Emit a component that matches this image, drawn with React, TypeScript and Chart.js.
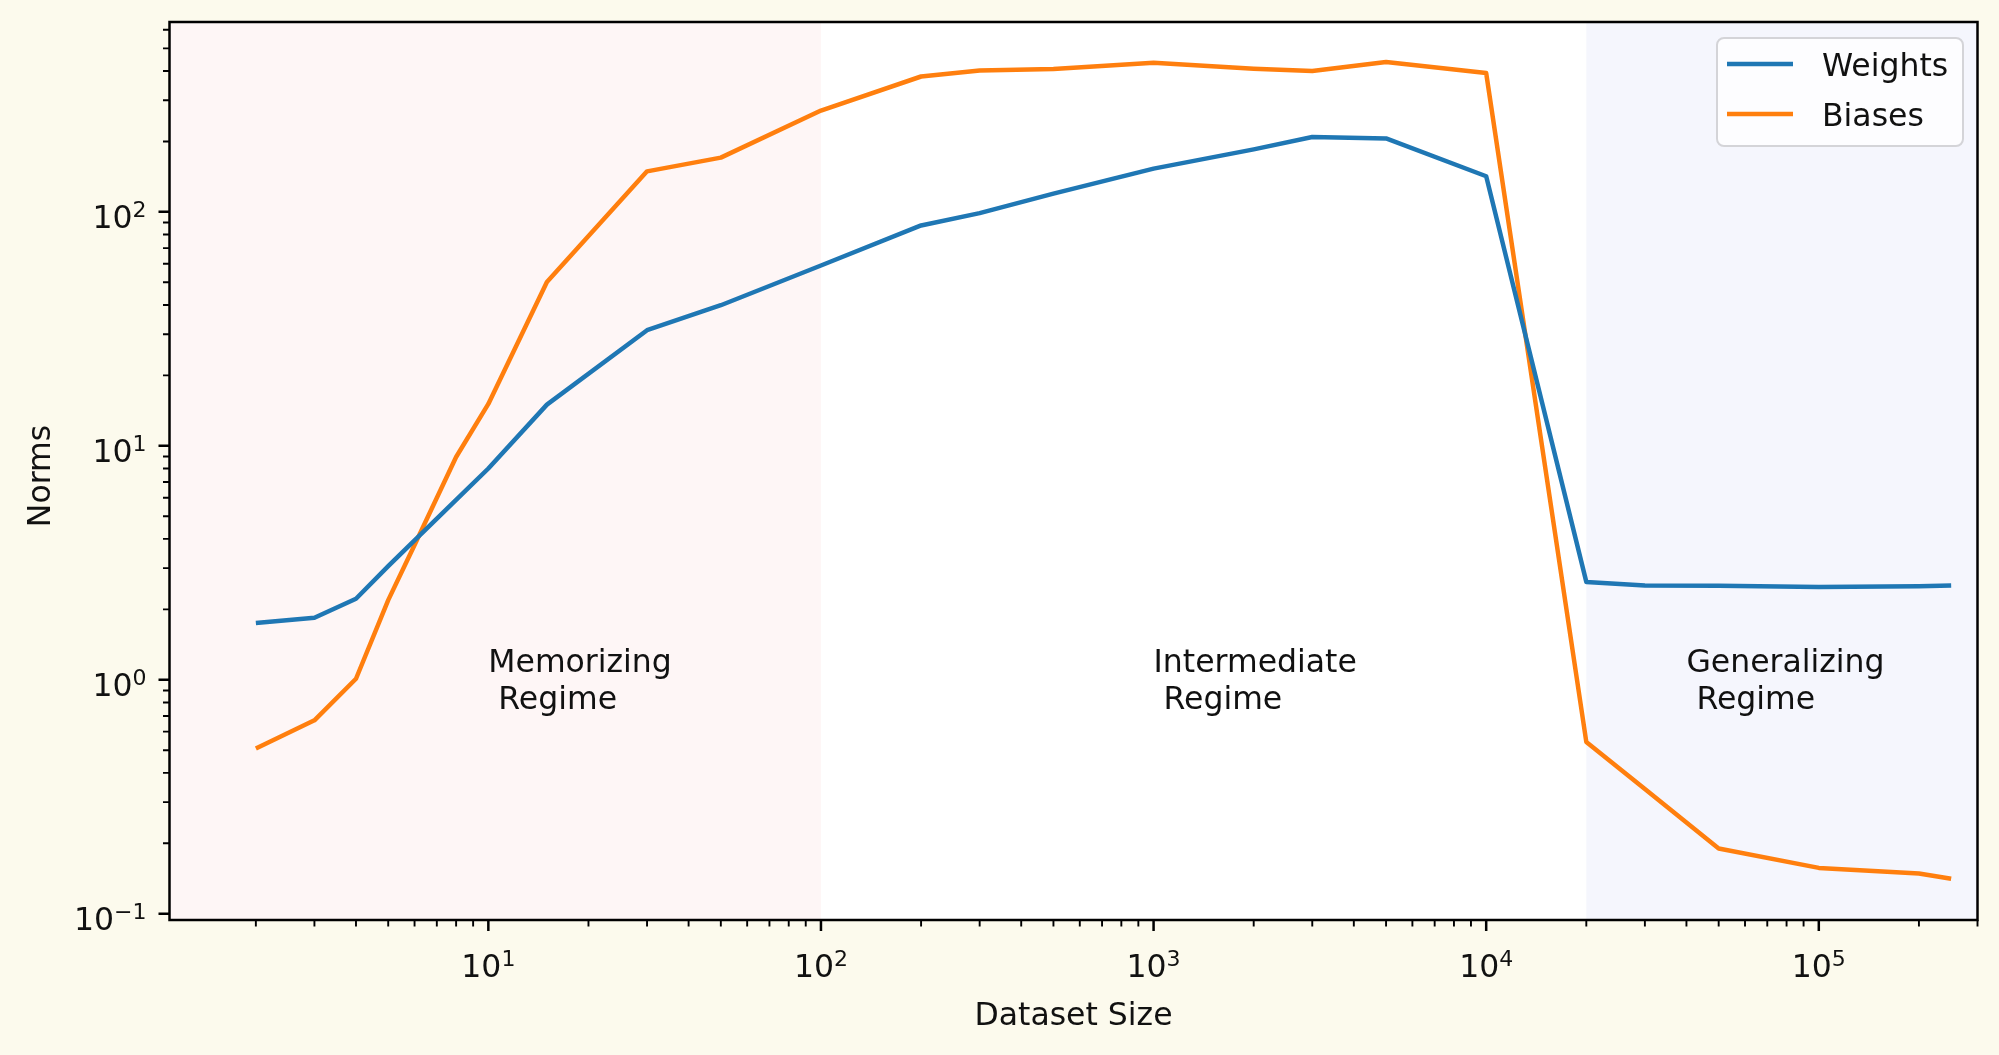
import { useEffect, useRef } from "react"
import { Chart, registerables } from "chart.js"

Chart.register(...registerables)

// dataset sizes (x) and the two norm curves
const datasetSizes = [2, 3, 4, 5, 6, 8, 10, 15, 30, 50, 100, 200, 300, 500, 1000, 2000, 3000, 5000, 10000, 20000, 30000, 50000, 100000, 200000, 250000]
const weightNorms = [1.75, 1.84, 2.22, 3.06, 3.94, 5.87, 8.0, 15.0, 31.2, 39.9, 59, 87.5, 98.8, 119.6, 153, 185, 209, 206, 142, 2.62, 2.53, 2.52, 2.49, 2.51, 2.53]
const biasNorms = [0.508, 0.671, 1.01, 2.19, 3.77, 8.96, 15.1, 50.1, 149, 170.5, 271, 379, 402, 408, 434, 409, 400, 437, 392, 0.542, 0.341, 0.19, 0.157, 0.1485, 0.141]

const seriesNames = ["Weights", "Biases"]
const seriesColors = ["#1f77b4", "#ff7f0e"]

// shaded regimes
const regionSpans = [[1, 100], [100, 20000], [20000, 300000]]
const regionColors = ["rgb(254,246,246)", null, "rgb(245,246,253)"]
const regionLabels = [["Memorizing", " Regime"], ["Intermediate", " Regime"], ["Generalizing", " Regime"]]
const regionLabelX = [10, 1000, 40000]
const regionLabelY = 1

// axis limits and tick labels
const xLimits = [1.1, 300000]
const yLimits = [0.094, 648]
const xMajorTicks = [10, 100, 1000, 10000, 100000]
const xTickExponents = ["1", "2", "3", "4", "5"]
const yMajorTicks = [0.1, 1, 10, 100]
const yTickExponents = ["\u22121", "0", "1", "2"]
const minorSteps = [2, 3, 4, 5, 6, 7, 8, 9]

const PAGE_BG = "#fcfaed"
const INK = "#111111"
const FONT = '"DejaVu Sans", sans-serif'
const FS = 31.5
const SUP = 22

function drawPower(ctx: CanvasRenderingContext2D, exp: string, x: number, baseline: number, align: "center" | "right") {
  ctx.font = `${FS}px ${FONT}`
  const w1 = ctx.measureText("10").width
  ctx.font = `${SUP}px ${FONT}`
  const w2 = ctx.measureText(exp).width
  const total = w1 + w2
  const left = align === "center" ? x - total / 2 : x - total
  ctx.textAlign = "left"
  ctx.textBaseline = "alphabetic"
  ctx.font = `${FS}px ${FONT}`
  ctx.fillText("10", left, baseline)
  ctx.font = `${SUP}px ${FONT}`
  ctx.fillText(exp, left + w1, baseline - 11)
}

function minorValues(lo: number, hi: number) {
  const out: number[] = []
  for (let k = -3; k <= 6; k++) {
    for (const m of minorSteps) {
      const v = m * Math.pow(10, k)
      if (v >= lo && v <= hi) out.push(v)
    }
  }
  return out
}

const decor = {
  id: "decor",
  beforeDraw(chart: any) {
    const { ctx, chartArea: a, scales } = chart
    ctx.save()
    ctx.fillStyle = PAGE_BG
    ctx.fillRect(0, 0, chart.width, chart.height)
    ctx.fillStyle = "#ffffff"
    ctx.fillRect(a.left, a.top, a.right - a.left, a.bottom - a.top)
    regionSpans.forEach(([from, to], i) => {
      const color = regionColors[i]
      if (!color) return
      const x0 = Math.max(a.left, scales.x.getPixelForValue(from))
      const x1 = Math.min(a.right, scales.x.getPixelForValue(to))
      ctx.fillStyle = color
      ctx.fillRect(x0, a.top, x1 - x0, a.bottom - a.top)
    })
    ctx.restore()
  },
  afterDraw(chart: any) {
    const { ctx, chartArea: a, scales } = chart
    const xs = scales.x
    const ys = scales.y
    ctx.save()

    // regime labels
    ctx.fillStyle = INK
    ctx.font = `${FS}px ${FONT}`
    ctx.textAlign = "left"
    ctx.textBaseline = "alphabetic"
    const yc = ys.getPixelForValue(regionLabelY)
    regionLabels.forEach((lines, i) => {
      const x = xs.getPixelForValue(regionLabelX[i])
      ctx.fillText(lines[0], x, yc - 8)
      ctx.fillText(lines[1], x, yc + 29)
    })

    // spines
    ctx.strokeStyle = "#000000"
    ctx.lineWidth = 2.5
    ctx.strokeRect(a.left, a.top, a.right - a.left, a.bottom - a.top)

    // ticks
    ctx.beginPath()
    ctx.lineWidth = 2.5
    xMajorTicks.forEach((v) => {
      const px = xs.getPixelForValue(v)
      ctx.moveTo(px, a.bottom)
      ctx.lineTo(px, a.bottom + 11)
    })
    yMajorTicks.forEach((v) => {
      const py = ys.getPixelForValue(v)
      ctx.moveTo(a.left, py)
      ctx.lineTo(a.left - 11, py)
    })
    ctx.stroke()
    ctx.beginPath()
    ctx.lineWidth = 1.9
    minorValues(xLimits[0], xLimits[1]).forEach((v) => {
      const px = xs.getPixelForValue(v)
      ctx.moveTo(px, a.bottom)
      ctx.lineTo(px, a.bottom + 6.5)
    })
    minorValues(yLimits[0], yLimits[1]).forEach((v) => {
      const py = ys.getPixelForValue(v)
      ctx.moveTo(a.left, py)
      ctx.lineTo(a.left - 6.5, py)
    })
    ctx.stroke()

    // tick labels
    ctx.fillStyle = INK
    xMajorTicks.forEach((v, i) => drawPower(ctx, xTickExponents[i], xs.getPixelForValue(v), a.bottom + 57, "center"))
    yMajorTicks.forEach((v, i) => drawPower(ctx, yTickExponents[i], a.left - 23, ys.getPixelForValue(v) + 16, "right"))

    // axis titles
    ctx.font = `${FS}px ${FONT}`
    ctx.textAlign = "center"
    ctx.textBaseline = "alphabetic"
    ctx.fillText("Dataset Size", (a.left + a.right) / 2, a.bottom + 105)
    ctx.save()
    ctx.translate(50, (a.top + a.bottom) / 2 + 5)
    ctx.rotate(-Math.PI / 2)
    ctx.fillText("Norms", 0, 0)
    ctx.restore()

    // legend
    const bw = 246
    const bh = 108
    const bx = a.right - 14.5 - bw
    const by = a.top + 16
    ctx.beginPath()
    ctx.roundRect(bx, by, bw, bh, 7)
    ctx.fillStyle = "rgba(255,255,255,0.8)"
    ctx.fill()
    ctx.strokeStyle = "#d4d4d8"
    ctx.lineWidth = 2
    ctx.stroke()
    chart.data.datasets.forEach((ds: any, i: number) => {
      const ly = by + 26 + i * 50
      ctx.beginPath()
      ctx.strokeStyle = ds.borderColor
      ctx.lineWidth = 4.5
      ctx.moveTo(bx + 10, ly)
      ctx.lineTo(bx + 76, ly)
      ctx.stroke()
      ctx.fillStyle = INK
      ctx.font = `${FS}px ${FONT}`
      ctx.textAlign = "left"
      ctx.fillText(ds.label, bx + 105, ly + 12)
    })

    ctx.restore()
  },
}

export default function App() {
  const canvasRef = useRef<HTMLCanvasElement | null>(null)
  const chartRef = useRef<Chart | null>(null)

  useEffect(() => {
    if (!canvasRef.current) return
    if (chartRef.current) chartRef.current.destroy()

    const series = [weightNorms, biasNorms]
    chartRef.current = new Chart(canvasRef.current, {
      type: "line",
      data: {
        datasets: series.map((vals, i) => ({
          label: seriesNames[i],
          data: datasetSizes.map((x, j) => ({ x, y: vals[j] })),
          borderColor: seriesColors[i],
          backgroundColor: seriesColors[i],
          borderWidth: 4.5,
          pointRadius: 0,
          tension: 0,
          borderJoinStyle: "round" as const,
          fill: false,
        })),
      },
      options: {
        responsive: false,
        animation: false,
        events: [],
        layout: { padding: { top: 22, right: 21.5, left: 0, bottom: 0 } },
        plugins: { legend: { display: false }, tooltip: { enabled: false } },
        scales: {
          x: {
            type: "logarithmic",
            min: xLimits[0],
            max: xLimits[1],
            bounds: "data",
            grid: { display: false },
            border: { display: false },
            ticks: { display: false },
            afterFit: (s: any) => {
              s.height = 135
            },
          },
          y: {
            type: "logarithmic",
            min: yLimits[0],
            max: yLimits[1],
            bounds: "data",
            grid: { display: false },
            border: { display: false },
            ticks: { display: false },
            afterFit: (s: any) => {
              s.width = 169.5
            },
          },
        },
      },
      plugins: [decor],
    })

    return () => {
      if (chartRef.current) {
        chartRef.current.destroy()
        chartRef.current = null
      }
    }
  }, [])

  return (
    <div style={{ position: "absolute", left: 0, top: 0, width: 1999, height: 1055, background: PAGE_BG }}>
      <canvas ref={canvasRef} width={1999} height={1055} style={{ display: "block" }} />
    </div>
  )
}
